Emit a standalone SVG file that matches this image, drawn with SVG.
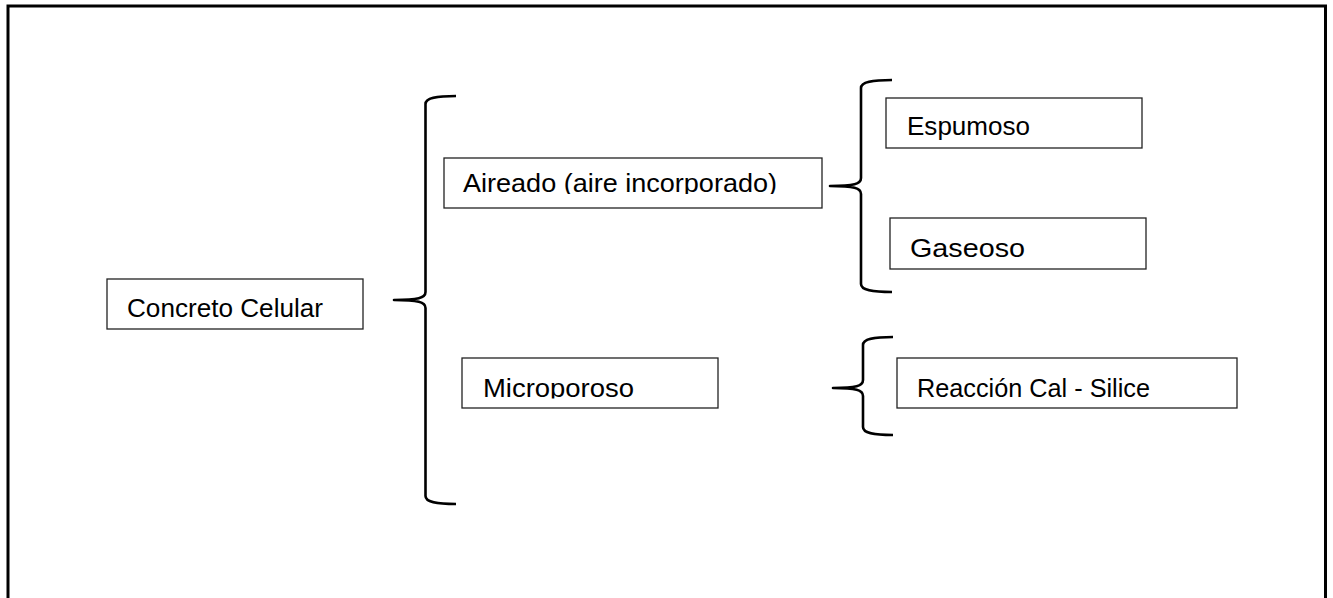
<svg xmlns="http://www.w3.org/2000/svg" width="1333" height="598" viewBox="0 0 1333 598">
<style>
.box{fill:#fff;stroke:#222;stroke-width:1.3}
.lbl{font-family:"Liberation Sans",Arial,sans-serif;font-size:26px;fill:#000}
.brace{fill:none;stroke:#000;stroke-width:2.6;stroke-linejoin:round}
</style>
<defs>
<clipPath id="clipA"><rect x="444" y="158" width="378" height="36"/></clipPath>
<clipPath id="clipM"><rect x="462" y="358" width="256" height="40.5"/></clipPath>
</defs>
<rect x="0" y="0" width="1333" height="598" fill="#fff"/>
<path d="M8,604 L8,6 L1325.5,6 L1325.5,604" fill="none" stroke="#000" stroke-width="3"/>
<g id="connectors">
<path class="brace" d="M456,96 C436,96 425.5,98 425.5,104 L425.5,292 C425.5,298 418,300 394,300 C418,300 425.5,302 425.5,308 L425.5,496 C425.5,502 436,504 456,504"/>
<path class="brace" d="M892,80 C872,80 861,82 861,88 L861,178 C861,184 854,186 830,186 C854,186 861,188 861,194 L861,284 C861,290 872,292 892,292"/>
<path class="brace" d="M893,337 C873,337 863,339 863,345 L863,380 C863,386 856,388 833,388 C856,388 863,390 863,396 L863,427 C863,433 873,435 893,435"/>
</g>
<g id="concreto">
<rect class="box" x="107" y="279" width="256" height="50"/>
<text class="lbl" x="127" y="317" textLength="196" lengthAdjust="spacingAndGlyphs">Concreto Celular</text>
</g>
<g id="aireado">
<rect class="box" x="444" y="158" width="378" height="50"/>
<text class="lbl" x="463" y="192" textLength="314" lengthAdjust="spacingAndGlyphs" clip-path="url(#clipA)">Aireado (aire incorporado)</text>
</g>
<g id="microporoso">
<rect class="box" x="462" y="358" width="256" height="50"/>
<text class="lbl" x="483" y="397" textLength="151" lengthAdjust="spacingAndGlyphs" clip-path="url(#clipM)">Microporoso</text>
</g>
<g id="espumoso">
<rect class="box" x="886" y="98" width="256" height="50"/>
<text class="lbl" x="907" y="135" textLength="123" lengthAdjust="spacingAndGlyphs">Espumoso</text>
</g>
<g id="gaseoso">
<rect class="box" x="890" y="218" width="256" height="51"/>
<text class="lbl" x="910" y="257" textLength="115" lengthAdjust="spacingAndGlyphs">Gaseoso</text>
</g>
<g id="reaccion">
<rect class="box" x="897" y="358" width="340" height="50"/>
<text class="lbl" x="917" y="397" textLength="233" lengthAdjust="spacingAndGlyphs">Reacción Cal - Silice</text>
</g>
</svg>
